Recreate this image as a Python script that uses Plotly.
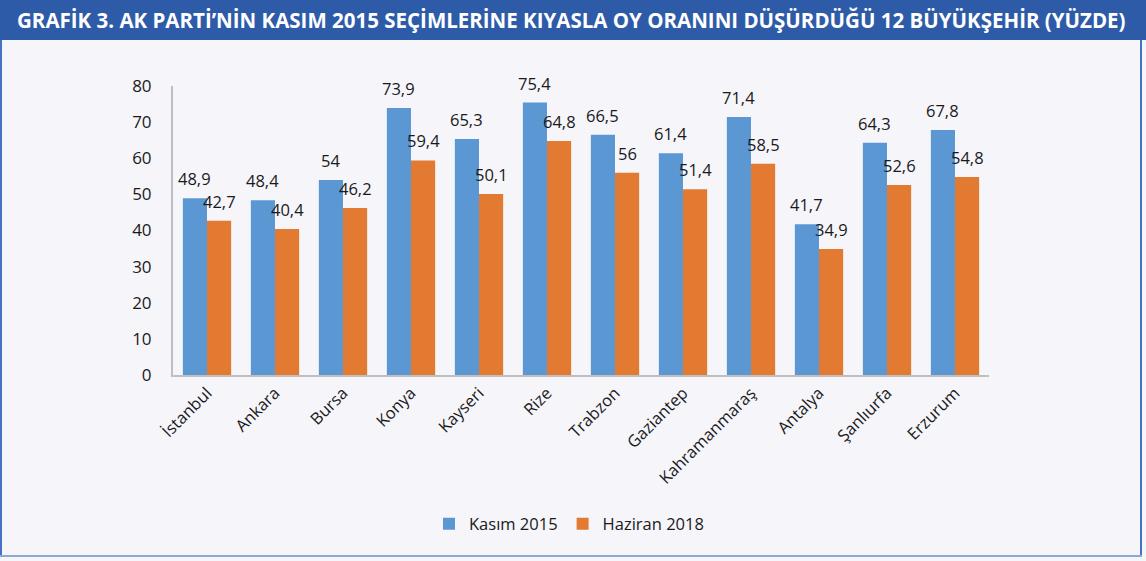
import plotly.graph_objects as go

categories = ["İstanbul", "Ankara", "Bursa", "Konya", "Kayseri", "Rize", "Trabzon",
              "Gaziantep", "Kahramanmaraş", "Antalya", "Şanlıurfa", "Erzurum"]
kasim_2015 = [48.9, 48.4, 54, 73.9, 65.3, 75.4, 66.5, 61.4, 71.4, 41.7, 64.3, 67.8]
haziran_2018 = [42.7, 40.4, 46.2, 59.4, 50.1, 64.8, 56, 51.4, 58.5, 34.9, 52.6, 54.8]
y_ticks = [0, 10, 20, 30, 40, 50, 60, 70, 80]
title_text = "GRAFİK 3. AK PARTİ’NİN KASIM 2015 SEÇİMLERİNE KIYASLA OY ORANINI DÜŞÜRDÜĞÜ 12 BÜYÜKŞEHİR (YÜZDE)"

W, H = 1146, 561
L, R, T, B = 173, 157, 86, 186
pw, ph = W - L - R, H - T - B
BARGAP = 0.29
half = pw / len(categories) * (1 - BARGAP) / 4  # offset of each bar centre from category centre

def fmt(v):
    return ("%g" % v).replace(".", ",")

font = "Open Sans, Noto Sans, sans-serif"
lab_font = dict(size=16.5, color="#1a1a1a", family=font)

fig = go.Figure()
fig.add_trace(go.Bar(
    x=categories, y=kasim_2015, name="Kasım 2015",
    marker=dict(color="#5B97D3", line=dict(width=0)),
))
fig.add_trace(go.Bar(
    x=categories, y=haziran_2018, name="Haziran 2018",
    marker=dict(color="#E37A31", line=dict(width=0)),
))

fx = lambda px: (px - L) / pw
fy = lambda py: (H - B - py) / ph

annotations = []
for series, shift in ((kasim_2015, -half), (haziran_2018, half)):
    for c, v in zip(categories, series):
        annotations.append(dict(x=c, y=v, text=fmt(v), xref="x", yref="y",
                                xanchor="center", yanchor="bottom", xshift=shift, yshift=6,
                                showarrow=False, font=lab_font))
annotations.append(dict(text="<b>" + title_text + "</b>", xref="paper", yref="paper",
                        x=fx(571), y=fy(20), xanchor="center", yanchor="middle",
                        showarrow=False, font=dict(size=20.5, color="white", family=font)))

fig.update_layout(
    width=W, height=H, autosize=False,
    margin=dict(l=L, r=R, t=T, b=B, pad=0, autoexpand=False),
    paper_bgcolor="#F5F5FA", plot_bgcolor="#F5F5FA",
    barmode="group", bargap=BARGAP, bargroupgap=0,
    font=dict(family=font, size=16, color="#1a1a1a"),
    showlegend=True,
    legend=dict(orientation="h", x=fx(569), xanchor="center", xref="paper",
                y=fy(524), yanchor="middle", font=dict(size=16.5, family=font),
                traceorder="normal", itemwidth=30),
    xaxis=dict(
        showline=True, linecolor="#BFBFBF", linewidth=2, showgrid=False,
        tickangle=-45, tickfont=dict(size=16.5, family=font), ticks="",
        automargin=False,
    ),
    yaxis=dict(
        range=[0, 80], tickvals=y_ticks, showline=True, linecolor="#BFBFBF", linewidth=2,
        showgrid=False, zeroline=False, ticks="", ticklabelstandoff=16,
        tickfont=dict(size=17, family=font), automargin=False,
    ),
    shapes=[
        dict(type="rect", xref="paper", yref="paper",
             x0=fx(0), x1=fx(W), y0=fy(40), y1=fy(0),
             fillcolor="#2E5BA8", line=dict(width=0), layer="below"),
        dict(type="line", xref="paper", yref="paper",
             x0=fx(1), x1=fx(1), y0=fy(40), y1=fy(556),
             line=dict(color="#4472C4", width=2)),
        dict(type="line", xref="paper", yref="paper",
             x0=fx(1141), x1=fx(1141), y0=fy(40), y1=fy(556),
             line=dict(color="#4472C4", width=2)),
        dict(type="line", xref="paper", yref="paper",
             x0=fx(0), x1=fx(1142), y0=fy(556), y1=fy(556),
             line=dict(color="#8EA9D1", width=2)),
    ],
    annotations=annotations,
)

fig.write_html("out.html", config={"displayModeBar": False},
               post_script="document.body.style.margin='0';")
